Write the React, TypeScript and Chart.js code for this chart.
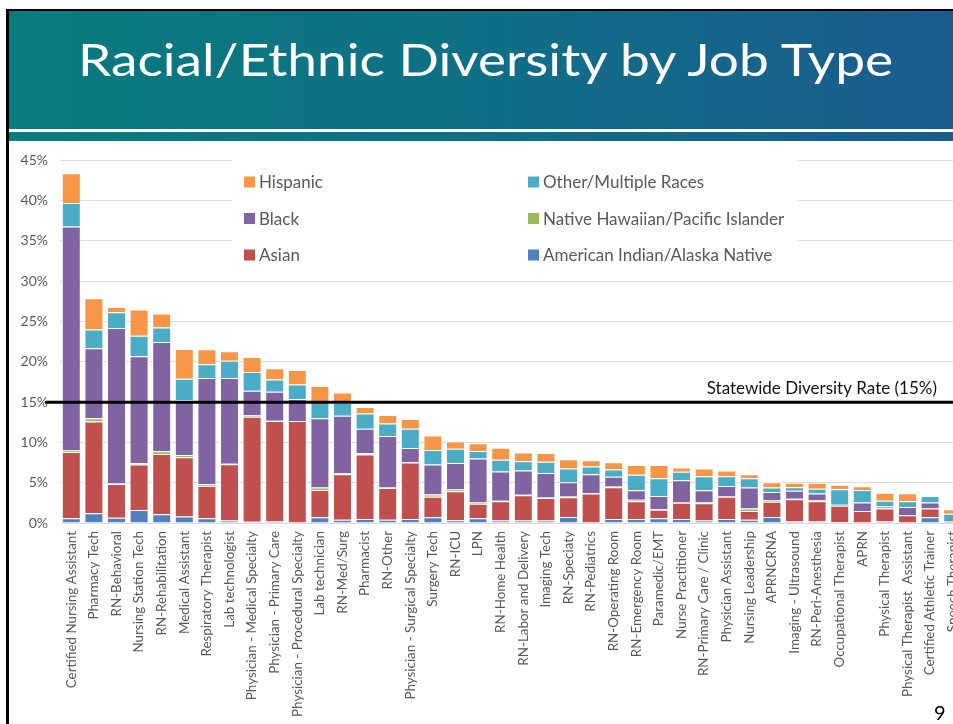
import React, { useEffect, useLayoutEffect, useRef } from "react";
import { Chart, registerables } from "chart.js";

Chart.register(...registerables);

const title = "Racial/Ethnic Diversity by Job Type";
const pageNumber = "9";
const statewideLabel = "Statewide Diversity Rate (15%)";
const statewideRate = 15;
const yTicks = [0, 5, 10, 15, 20, 25, 30, 35, 40, 45];

const categories = [
  "Certified Nursing Assistant",
  "Pharmacy Tech",
  "RN-Behavioral",
  "Nursing Station Tech",
  "RN-Rehabilitation",
  "Medical Assistant",
  "Respiratory Therapist",
  "Lab technologist",
  "Physician - Medical Specialty",
  "Physician - Primary Care",
  "Physician - Procedural Specialty",
  "Lab technician",
  "RN-Med/Surg",
  "Pharmacist",
  "RN-Other",
  "Physician - Surgical Specialty",
  "Surgery Tech",
  "RN-ICU",
  "LPN",
  "RN-Home Health",
  "RN-Labor and Delivery",
  "Imaging Tech",
  "RN-Speciaty",
  "RN-Pediatrics",
  "RN-Operating Room",
  "RN-Emergency Room",
  "Paramedic/EMT",
  "Nurse Practitioner",
  "RN-Primary Care / Clinic",
  "Physician Assistant",
  "Nursing Leadership",
  "APRNCRNA",
  "Imaging - Ultrasound",
  "RN-Peri-Anesthesia",
  "Occupational Therapist",
  "APRN",
  "Physical Therapist",
  "Physical Therapist  Assistant",
  "Certified Athletic Trainer",
  "Speech Therapist",
];

const americanIndian = [0.6, 1.2, 0.65, 1.6, 1.1, 0.8, 0.6, 0.3, 0.15, 0.25, 0.05, 0.7, 0.4, 0.5, 0.4, 0.5, 0.7, 0.35, 0.6, 0.3, 0.3, 0.3, 0.75, 0.05, 0.5, 0.5, 0.6, 0.5, 0.3, 0.5, 0.4, 0.75, 0.2, 0.2, 0.1, 0.0, 0.2, 0.05, 0.7, 0.0];
const asian = [8.2, 11.4, 4.2, 5.65, 7.45, 7.35, 4.0, 7.0, 13.05, 12.4, 12.6, 3.4, 5.65, 8.0, 3.95, 7.0, 2.55, 3.6, 1.8, 2.4, 3.15, 2.8, 2.45, 3.6, 3.95, 2.2, 1.05, 2.0, 2.15, 2.75, 1.1, 1.9, 2.75, 2.5, 2.05, 1.5, 1.6, 0.9, 1.1, 0.25];
const nativeHawaiian = [0.2, 0.4, 0.05, 0.15, 0.35, 0.3, 0.2, 0.05, 0.2, 0.05, 0.0, 0.3, 0.15, 0.15, 0.05, 0.05, 0.3, 0.2, 0.2, 0.05, 0.05, 0.05, 0.15, 0.05, 0.15, 0.2, 0.05, 0.05, 0.15, 0.05, 0.3, 0.15, 0.05, 0.15, 0.0, 0.0, 0.1, 0.0, 0.0, 0.0];
const black = [27.8, 8.7, 19.3, 13.3, 13.55, 6.8, 13.2, 10.65, 3.0, 3.6, 2.75, 8.6, 7.1, 3.05, 6.4, 1.75, 3.7, 3.3, 5.4, 3.65, 3.0, 3.05, 1.7, 2.35, 1.15, 1.15, 1.65, 2.75, 1.45, 1.3, 2.6, 1.05, 1.0, 0.8, 0.1, 1.05, 0.2, 1.05, 0.75, 0.0];
const otherMultiple = [2.9, 2.3, 1.95, 2.55, 1.8, 2.65, 1.7, 2.15, 2.35, 1.5, 1.8, 2.0, 1.6, 1.9, 1.55, 2.4, 1.8, 1.75, 0.95, 1.45, 1.15, 1.4, 1.7, 0.95, 0.9, 1.95, 2.2, 1.05, 1.75, 1.2, 1.15, 0.55, 0.45, 0.6, 1.95, 1.55, 0.65, 0.7, 0.8, 0.9];
const hispanic = [3.7, 3.9, 0.65, 3.25, 1.75, 3.7, 1.85, 1.15, 1.85, 1.4, 1.8, 2.0, 1.3, 0.8, 1.05, 1.2, 1.8, 0.9, 0.95, 1.5, 1.1, 1.1, 1.15, 0.8, 0.9, 1.2, 1.65, 0.55, 0.95, 0.7, 0.5, 0.65, 0.55, 0.75, 0.55, 0.45, 1.0, 1.0, 0.0, 0.55];

const seriesNames = [
  "American Indian/Alaska Native",
  "Asian",
  "Native Hawaiian/Pacific Islander",
  "Black",
  "Other/Multiple Races",
  "Hispanic",
];
const seriesValues = [americanIndian, asian, nativeHawaiian, black, otherMultiple, hispanic];
const seriesColors = ["#4F81BD", "#C0504D", "#9BBB59", "#8064A2", "#4BACC6", "#F79646"];
const legendOrder = [5, 4, 3, 2, 1, 0];

const FONT = "Lato, 'Open Sans', sans-serif";

const statewidePlugin = {
  id: "statewide",
  afterDatasetsDraw(chart: any) {
    const ctx = chart.ctx;
    const y = chart.scales.y.getPixelForValue(statewideRate);
    ctx.save();
    ctx.strokeStyle = "#000";
    ctx.lineWidth = 3;
    ctx.beginPath();
    ctx.moveTo(chart.chartArea.left - 15, y);
    ctx.lineTo(chart.width, y);
    ctx.stroke();
    ctx.fillStyle = "#111";
    ctx.font = `17px ${FONT}`;
    ctx.textAlign = "right";
    ctx.textBaseline = "middle";
    ctx.fillText(statewideLabel, 927, y - 14);
    ctx.restore();
  },
};

const boxLegendPlugin = {
  id: "boxLegend",
  afterDatasetsDraw(chart: any) {
    const ctx = chart.ctx;
    const ds = chart.data.datasets;
    ctx.save();
    ctx.fillStyle = "#ffffff";
    ctx.fillRect(222, 20, 565, 114);
    ctx.font = `17px ${FONT}`;
    ctx.textBaseline = "middle";
    ctx.textAlign = "left";
    legendOrder.forEach((di, k) => {
      const col = k % 2;
      const row = Math.floor(k / 2);
      const x = col ? 518 : 234;
      const y = 42 + row * 36.5;
      ctx.fillStyle = ds[di].backgroundColor;
      ctx.fillRect(x, y - 5.5, 11, 11);
      ctx.fillStyle = "#595959";
      ctx.fillText(ds[di].label, x + 15, y + 1);
    });
    ctx.restore();
  },
};

function ChartCanvas() {
  const ref = useRef<HTMLCanvasElement | null>(null);
  useEffect(() => {
    if (!ref.current) return;
    const chart = new Chart(ref.current, {
      type: "bar",
      data: {
        labels: categories,
        datasets: seriesNames.map((name, i) => ({
          label: name,
          data: seriesValues[i],
          backgroundColor: seriesColors[i],
          borderColor: "rgba(255,255,255,0.75)",
          borderWidth: 1,
          categoryPercentage: 1,
          barPercentage: 0.84,
        })),
      },
      options: {
        responsive: false,
        animation: false,
        devicePixelRatio: 1,
        layout: { padding: { top: 13, right: 16, left: 0, bottom: 0 } },
        plugins: {
          legend: { display: false },
          tooltip: { enabled: false },
        },
        scales: {
          x: {
            stacked: true,
            grid: { display: false, drawTicks: false },
            border: { display: false },
            ticks: {
              autoSkip: false,
              minRotation: 90,
              maxRotation: 90,
              padding: 8,
              color: "#595959",
              font: { family: FONT, size: 13.4 },
            },
            afterFit(scale: any) {
              scale.height = 201;
            },
          },
          y: {
            stacked: true,
            min: 0,
            max: 45,
            afterBuildTicks(scale: any) {
              scale.ticks = yTicks.map((v) => ({ value: v }));
            },
            grid: { color: "#dcdcdc", drawTicks: false, lineWidth: 1 },
            border: { display: false },
            ticks: {
              padding: 12,
              color: "#595959",
              font: { family: FONT, size: 14 },
              callback: (v: any) => `${v}%`,
            },
            afterFit(scale: any) {
              scale.width = 50;
            },
          },
        },
      },
      plugins: [statewidePlugin, boxLegendPlugin],
    });
    return () => chart.destroy();
  }, []);
  return <canvas ref={ref} width={970} height={584} style={{ width: 970, height: 584, display: "block" }} />;
}

export default function App() {
  const titleRef = useRef<HTMLSpanElement | null>(null);
  useLayoutEffect(() => {
    const el = titleRef.current;
    if (!el) return;
    const w = el.offsetWidth;
    if (w > 0) el.style.transform = `scaleX(${815 / w})`;
  }, []);
  return (
    <div
      style={{
        position: "fixed",
        left: 0,
        top: 0,
        width: 953,
        height: 724,
        overflow: "hidden",
        background: "#ffffff",
      }}
    >
      {/* slide frame */}
      <div style={{ position: "absolute", left: 6, top: 9, width: 3, height: 715, background: "#000" }} />
      <div style={{ position: "absolute", left: 6, top: 9, width: 947, height: 2, background: "#000" }} />
      {/* header */}
      <div
        style={{
          position: "absolute",
          left: 9,
          top: 11,
          width: 944,
          height: 118,
          background: "linear-gradient(90deg, #087b7d 0%, #0f6f86 50%, #1b5b8e 100%)",
        }}
      />
      <div
        style={{
          position: "absolute",
          left: 9,
          top: 132,
          width: 944,
          height: 9,
          background: "linear-gradient(90deg, #087b7d 0%, #0f6f86 50%, #1b5b8e 100%)",
        }}
      />
      <span
        ref={titleRef}
        style={{
          position: "absolute",
          left: 78,
          top: 37,
          fontFamily: FONT,
          fontSize: 45,
          lineHeight: 1,
          color: "#ffffff",
          whiteSpace: "nowrap",
          transformOrigin: "left top",
        }}
      >
        {title}
      </span>
      <div style={{ position: "absolute", left: 10, top: 140 }}>
        <ChartCanvas />
      </div>
      <div
        style={{
          position: "absolute",
          left: 934,
          top: 702,
          fontFamily: FONT,
          fontSize: 20,
          lineHeight: 1,
          color: "#000",
        }}
      >
        {pageNumber}
      </div>
    </div>
  );
}
